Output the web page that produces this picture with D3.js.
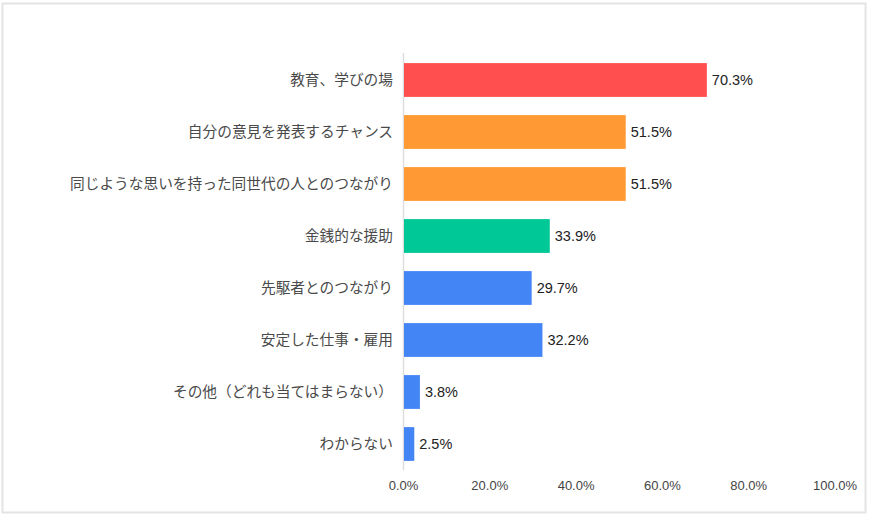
<!DOCTYPE html>
<html><head><meta charset="utf-8">
<script src="https://cdn.jsdelivr.net/npm/d3@7"></script>
<style>
html,body{margin:0;padding:0;background:#fff;}
svg{display:block;}
text{font-family:"Liberation Sans","Noto Sans CJK JP",Arial,sans-serif;}
</style></head>
<body>
<svg id="chart" width="870" height="517"></svg>
<script>
const categories = ["教育、学びの場","自分の意見を発表するチャンス","同じような思いを持った同世代の人とのつながり","金銭的な援助","先駆者とのつながり","安定した仕事・雇用","その他（どれも当てはまらない）","わからない"];
const values = [70.3, 51.5, 51.5, 33.9, 29.7, 32.2, 3.8, 2.5];
const barColors = ["#FF4F4F","#FF9933","#FF9933","#00C896","#4385F5","#4385F5","#4385F5","#4385F5"];
const xTicks = [0, 20, 40, 60, 80, 100];

const svg = d3.select("#chart");
svg.append("rect").attr("x",2.5).attr("y",3.5).attr("width",863).attr("height",509)
  .attr("fill","#fff").attr("stroke","#e4e4e4").attr("stroke-width",2);

const x = d3.scaleLinear().domain([0,100]).range([403.5,835]);
const y = d3.scaleBand().domain(categories).range([54,470]).paddingInner(0.35).paddingOuter(0.175);

// axis line
svg.append("line").attr("x1",x(0)).attr("x2",x(0)).attr("y1",53).attr("y2",470)
  .attr("stroke","#dddddd").attr("stroke-width",1.5);

svg.selectAll("rect.bar").data(categories).join("rect").attr("class","bar")
  .attr("x",x(0)+0.5).attr("y",d=>y(d))
  .attr("width",(d,i)=>x(values[i])-x(0)-0.5).attr("height",y.bandwidth())
  .attr("fill",(d,i)=>barColors[i]);

svg.selectAll("text.val").data(categories).join("text").attr("class","val")
  .attr("x",(d,i)=>x(values[i])+5).attr("y",d=>y(d)+y.bandwidth()/2)
  .attr("dy","0.36em").attr("font-size",14.5).attr("fill","#222")
  .text((d,i)=>values[i].toFixed(1)+"%");

svg.selectAll("text.cat").data(categories).join("text").attr("class","cat")
  .attr("x",393).attr("y",d=>y(d)+y.bandwidth()/2)
  .attr("dy","0.36em").attr("text-anchor","end").attr("font-size",14.7).attr("fill","#4a4a4a")
  .text(d=>d);

svg.selectAll("text.tick").data(xTicks).join("text").attr("class","tick")
  .attr("x",d=>x(d)).attr("y",490).attr("text-anchor","middle")
  .attr("font-size",13).attr("fill","#444")
  .text(d=>d.toFixed(1)+"%");
</script>
</body></html>
